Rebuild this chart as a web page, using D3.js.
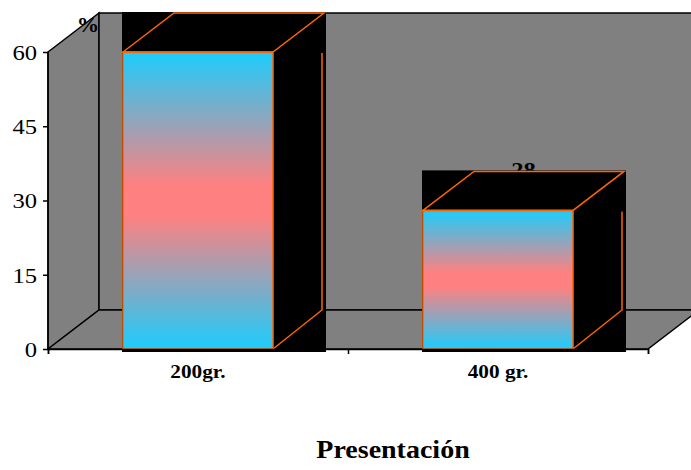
<!DOCTYPE html>
<html>
<head>
<meta charset="utf-8">
<script src="https://cdn.jsdelivr.net/npm/d3@7"></script>
<style>
  html, body { margin: 0; padding: 0; background: #fff; }
  svg { display: block; }
</style>
</head>
<body>
<svg id="chart" width="691" height="470"></svg>
<script>
// Data
const categories = ["200gr.", "400 gr."];
const values = [60, 28];
const yTicks = [0, 15, 30, 45, 60];
const yLabel = "%";
const xTitle = "Presentación";

const W = 691, H = 470;
const svg = d3.select("#chart");
const FONT = '"Liberation Serif", "Times New Roman", serif';

// Layout of the 3D box
const left = 48, right = 648, floorY = 349, topY = 52;
const dx = 51, dy = -39;          // depth offset
const sx = 1.12;                  // horizontal text stretch

const x = d3.scaleBand().domain(categories).range([left, right])
  .paddingInner(0.5).paddingOuter(0.25);
const xEdge = d3.scaleLinear().domain([0, categories.length]).range([left, right]);
const y = d3.scaleLinear().domain([0, 60]).range([floorY, topY]);

const gray = "#808080", orange = "#ff6600";

// Gradient for the bar fronts
const defs = svg.append("defs");
const grad = defs.append("linearGradient").attr("id", "barGrad")
  .attr("x1", 0).attr("y1", 0).attr("x2", 0).attr("y2", 1);
grad.append("stop").attr("offset", "0%").attr("stop-color", "#1ccdfd");
grad.append("stop").attr("offset", "45%").attr("stop-color", "#ff8080");
grad.append("stop").attr("offset", "55%").attr("stop-color", "#ff8080");
grad.append("stop").attr("offset", "100%").attr("stop-color", "#1ccdfd");

defs.append("clipPath").attr("id", "plotClip")
  .append("rect").attr("x", 0).attr("y", y(60) + dy - 1).attr("width", W).attr("height", H);

// Left wall
svg.append("polygon")
  .attr("points", [[left, y(60)], [left + dx, y(60) + dy], [left + dx, floorY + dy], [left, floorY]].join(" "))
  .attr("fill", gray).attr("stroke", "#000").attr("stroke-width", 1.5);

// Axis caption on the left wall
svg.append("text")
  .attr("transform", `translate(88,32) scale(${sx},1)`)
  .attr("text-anchor", "middle")
  .style("font-family", FONT).style("font-size", "20px").style("font-weight", "bold")
  .text(yLabel);

// Back wall
svg.append("rect")
  .attr("x", left + dx).attr("y", y(60) + dy)
  .attr("width", W - left - dx + 10).attr("height", floorY - y(60))
  .attr("fill", gray).attr("stroke", "#000").attr("stroke-width", 1.5);

// Floor
svg.append("polygon")
  .attr("points", [[left, floorY], [left + dx, floorY + dy], [right + dx, floorY + dy], [right, floorY]].join(" "))
  .attr("fill", gray).attr("stroke", "#000").attr("stroke-width", 1.5);

// Value labels (sit behind the boxes)
svg.append("g").attr("clip-path", "url(#plotClip)")
  .selectAll("text").data(categories).join("text")
  .attr("transform", (c, i) => `translate(${x(c) + x.bandwidth() / 2 + dx / 2},${y(values[i]) + dy + 6}) scale(${sx},1)`)
  .attr("text-anchor", "middle")
  .style("font-family", FONT).style("font-size", "22px").style("font-weight", "bold")
  .text((c, i) => values[i]);

// Bars
const bars = svg.append("g").selectAll("g").data(categories).join("g");
bars.each(function (c, i) {
  const g = d3.select(this);
  const x0 = x(c), w = x.bandwidth(), x1 = x0 + w;
  const yt = y(values[i]);
  // dark bounding box
  g.append("rect")
    .attr("x", x0 - 1).attr("y", yt + dy - 1)
    .attr("width", w + dx + 3).attr("height", floorY + 3 - (yt + dy - 1))
    .attr("fill", "#000");
  // front face
  g.append("rect")
    .attr("x", x0).attr("y", yt).attr("width", w).attr("height", floorY - yt)
    .attr("fill", "url(#barGrad)").attr("stroke", orange).attr("stroke-width", 1.5);
  // top face
  g.append("polygon")
    .attr("points", [[x0, yt], [x0 + dx, yt + dy], [x1 + dx, yt + dy], [x1, yt]].join(" "))
    .attr("fill", "none").attr("stroke", orange).attr("stroke-width", 1.5);
  // side edges
  g.append("path")
    .attr("d", `M${x1},${floorY}L${x1 + dx - 2},${floorY + dy}L${x1 + dx - 2},${yt + 1}`)
    .attr("fill", "none").attr("stroke", orange).attr("stroke-width", 1.5);
});

// Y axis
const yAxis = svg.append("g").attr("transform", `translate(${left},0)`)
  .call(d3.axisLeft(y).tickValues(yTicks).tickSize(5).tickPadding(6));
yAxis.select(".domain").remove();
yAxis.selectAll(".tick line").attr("stroke", "#000").attr("stroke-width", 1.5);
yAxis.selectAll(".tick text")
  .style("font-family", FONT).style("font-size", "22px").attr("fill", "#000")
  .attr("dy", "0.34em")
  .attr("transform", `scale(${sx},1)`)
  .attr("x", -11 / sx);
svg.append("line").attr("x1", left).attr("x2", left).attr("y1", y(60)).attr("y2", floorY)
  .attr("stroke", "#000").attr("stroke-width", 1.5);

// X axis (ticks at category boundaries)
const xAxis = svg.append("g").attr("transform", `translate(0,${floorY})`)
  .call(d3.axisBottom(xEdge).tickValues(d3.range(categories.length + 1)).tickSize(5).tickFormat(""));
xAxis.select(".domain").attr("stroke", "#000").attr("stroke-width", 1.5);
xAxis.selectAll(".tick line").attr("stroke", "#000").attr("stroke-width", 1.5);

svg.append("g").selectAll("text").data(categories).join("text")
  .attr("transform", c => `translate(${x(c) + x.bandwidth() / 2},378) scale(${sx},1)`)
  .attr("text-anchor", "middle")
  .style("font-family", FONT).style("font-size", "19px").style("font-weight", "bold")
  .text(c => c);

// Axis title
svg.append("text")
  .attr("transform", `translate(393,458) scale(${sx},1)`)
  .attr("text-anchor", "middle")
  .style("font-family", FONT).style("font-size", "25px").style("font-weight", "bold")
  .text(xTitle);
</script>
</body>
</html>
